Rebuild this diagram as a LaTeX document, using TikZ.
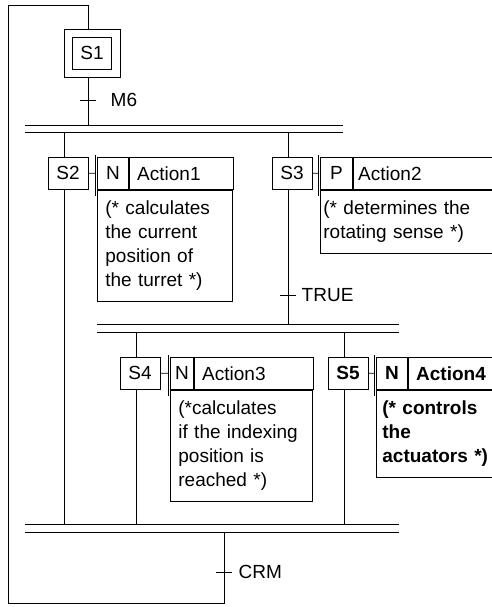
\documentclass[tikz,border=0pt]{standalone}
\usepackage{fontspec}
\setmainfont{Liberation Sans}
\usetikzlibrary{positioning}

\begin{document}
\begin{tikzpicture}[x=1pt,y=-1pt,line width=0.8pt,font=\fontsize{19}{24}\selectfont]
                \tikzstyle{stepbox}=[draw, minimum width=40pt, minimum height=32pt, inner sep=0pt]
                \tikzstyle{qualifier}=[draw, minimum height=32pt, inner sep=0pt, anchor=north west]
                \tikzstyle{actname}=[draw, minimum height=32pt, inner xsep=8pt, inner ysep=0pt, anchor=north west, align=left]
                \tikzstyle{remark}=[draw, inner xsep=8pt, inner ysep=10.5pt, anchor=north west, align=left]
                \tikzstyle{trans}=[anchor=west]

                \useasboundingbox (0,0) rectangle (492,607);

                % steps
                \node[draw, minimum width=56pt, minimum height=48pt] (S1o) at (92,53) {};
                \node[stepbox, minimum width=39pt] (S1) at (92,53) {S1};
                \node[stepbox] (S2) at (68,173) {S2};
                \node[stepbox] (S3) at (292,173) {S3};
                \node[stepbox] (S4) at (140,373) {S4};
                \node[stepbox, font=\fontsize{19}{24}\selectfont\bfseries] (S5) at (348,373) {S5};

                % action blocks
                \node[qualifier, minimum width=31pt] (A1q) at (97,157) {N};
                \node[actname, text width=88pt] (A1n) at (A1q.north east) {Action1};
                \node[remark, text width=119pt] (A1c) at (A1q.south west) {(* calculates\\the current\\position of\\the turret *)};

                \node[qualifier, minimum width=32pt] (A2q) at (320,157) {P};
                \node[actname, inner xsep=5pt, text width=170pt] (A2n) at (A2q.north east) {Action2};
                \node[remark, inner xsep=3pt, text width=206pt] (A2c) at (A2q.south west) {(* determines the\\rotating sense *)};

                \node[qualifier, minimum width=23pt] (A3q) at (170,357) {N};
                \node[actname, text width=103pt] (A3n) at (A3q.north east) {Action3};
                \node[remark, text width=126pt] (A3c) at (A3q.south west) {(*calculates\\if the indexing\\position is\\reached *)};

                \begin{scope}[font=\fontsize{19}{24}\selectfont\bfseries]
                \node[qualifier, minimum width=31pt] (A4q) at (376,357) {N};
                \node[actname, text width=140pt] (A4n) at (A4q.north east) {Action4};
                \node[remark, inner xsep=6pt, text width=160pt] (A4c) at (A4q.south west) {(* controls\\the\\actuators *)};
                \end{scope}

                % step to action links
                \foreach \s/\a in {S2/A1q,S3/A2q,S4/A3q,S5/A4q} {
                  \draw[shorten >=2pt] (\s) -- (\a);
                  \draw ([xshift=-2pt,yshift=2pt]\a.north west) -- ([xshift=-2pt,yshift=-6pt]\a.south west);
                }

                % flow lines sit a bit left of the step centres
                \foreach \s in {S1,S2,S3,S4,S5} {
                  \coordinate (\s t) at ([xshift=-4pt]\s.north);
                  \coordinate (\s b) at ([xshift=-4pt]\s.south);
                }
                \coordinate (S1t) at ([xshift=-4pt]S1o.north);
                \coordinate (S1b) at ([xshift=-4pt]S1o.south);

                % simultaneous branches
                \coordinate (bar1t) at (25,125);  \coordinate (bar1b) at (25,132);
                \coordinate (bar2t) at (97,324);  \coordinate (bar2b) at (97,332);
                \coordinate (bar3t) at (25,524);  \coordinate (bar3b) at (25,532);
                \draw (bar1t) -- ++(318,0) (bar1b) -- ++(318,0);
                \draw (bar2t) -- ++(302,0) (bar2b) -- ++(302,0);
                \draw (bar3t) -- ++(374,0) (bar3b) -- ++(374,0);

                % transitions
                \coordinate (M6) at (88,100);
                \coordinate (TRUE) at (288,295);
                \coordinate (CRM) at (224,572);
                \foreach \t in {M6,TRUE,CRM}
                  \draw ([xshift=-8pt]\t) -- ([xshift=8pt]\t);
                \node[trans] (M6l) at ([xshift=19pt]M6) {M6};
                \node[trans] (TRUEl) at ([xshift=10pt]TRUE) {TRUE};
                \node[trans] (CRMl) at ([xshift=11pt]CRM) {CRM};

                % connections
                \draw (S1b) -- (S1b |- bar1t);
                \draw (S2t |- bar1b) -- (S2t);
                \draw (S3t |- bar1b) -- (S3t);
                \draw (S2b) -- (S2b |- bar3t);
                \draw (S3b) -- (S3b |- bar2t);
                \draw (S4t |- bar2b) -- (S4t);
                \draw (S5t |- bar2b) -- (S5t);
                \draw (S4b) -- (S4b |- bar3t);
                \draw (S5b) -- (S5b |- bar3t);
                \draw (CRM |- bar3b) -- (224,603) -| (8,5) -| (S1t);
\end{tikzpicture}
\end{document}
